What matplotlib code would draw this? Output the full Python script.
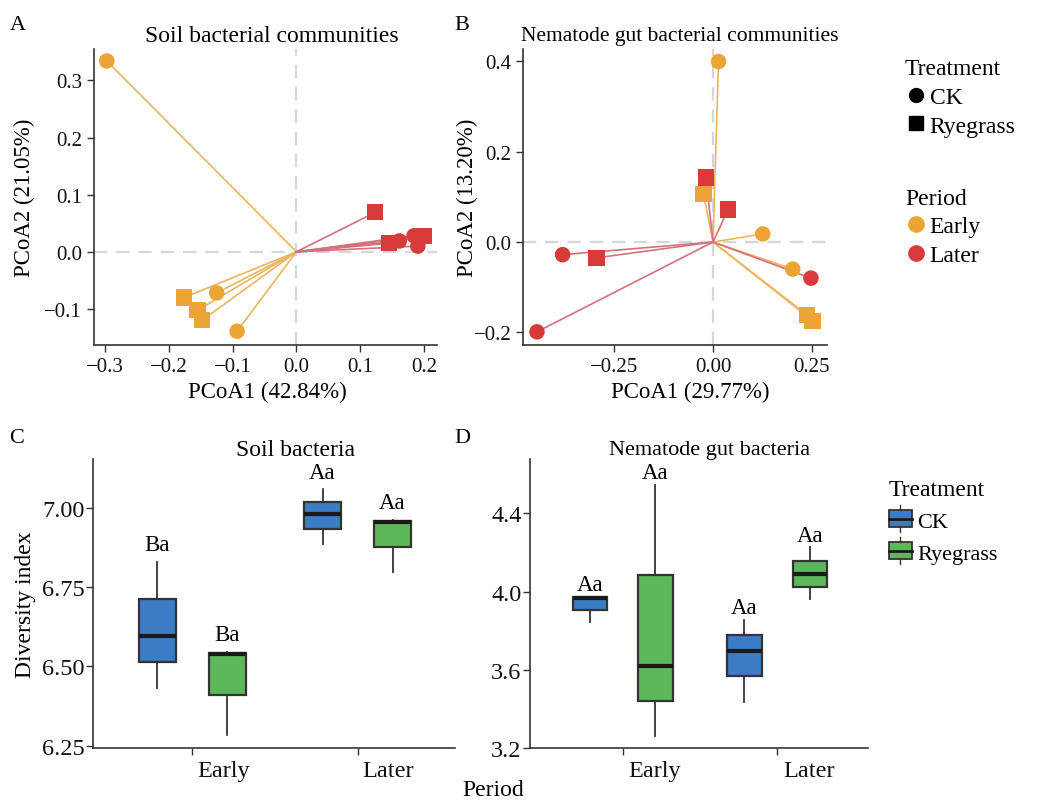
import matplotlib
matplotlib.use("Agg")
import matplotlib.pyplot as plt
import matplotlib.transforms as mtrans
from matplotlib.lines import Line2D
from matplotlib.patches import Rectangle
from matplotlib.legend_handler import HandlerBase

plt.rcParams['font.family'] = ['Liberation Serif', 'DejaVu Serif']
plt.rcParams['font.size'] = 14
plt.rcParams['axes.unicode_minus'] = True

# ---- data: PCoA of soil bacterial communities (panel A)
soil_x = [-0.297, -0.176, -0.155, -0.148, -0.125, -0.093,
          0.123, 0.145, 0.161, 0.184, 0.200, 0.190]
soil_y = [0.334, -0.080, -0.102, -0.120, -0.072, -0.139,
          0.069, 0.015, 0.019, 0.028, 0.028, 0.010]
soil_period = ['Early'] * 6 + ['Later'] * 6
soil_treat = ['CK', 'Ryegrass', 'Ryegrass', 'Ryegrass', 'CK', 'CK',
              'Ryegrass', 'Ryegrass', 'CK', 'CK', 'Ryegrass', 'CK']

# ---- data: PCoA of nematode gut bacterial communities (panel B)
gut_x = [0.014, -0.024, 0.126, 0.202, 0.239, 0.252,
         -0.018, 0.038, 0.248, -0.381, -0.295, -0.446]
gut_y = [0.400, 0.106, 0.018, -0.060, -0.162, -0.174,
         0.143, 0.072, -0.080, -0.028, -0.035, -0.199]
gut_period = ['Early'] * 6 + ['Later'] * 6
gut_treat = ['CK', 'Ryegrass', 'CK', 'CK', 'Ryegrass', 'Ryegrass',
             'Ryegrass', 'Ryegrass', 'CK', 'CK', 'Ryegrass', 'CK']

# ---- data: diversity boxplots (whislo, q1, med, q3, whishi)
periods = ['Early', 'Later']
treatments = ['CK', 'Ryegrass']
soil_box = {
    ('Early', 'CK'): [6.432, 6.514, 6.596, 6.713, 6.829],
    ('Early', 'Ryegrass'): [6.285, 6.411, 6.538, 6.543, 6.547],
    ('Later', 'CK'): [6.887, 6.932, 6.981, 7.018, 7.058],
    ('Later', 'Ryegrass'): [6.799, 6.877, 6.954, 6.958, 6.962],
}
soil_letters = {('Early', 'CK'): 'Ba', ('Early', 'Ryegrass'): 'Ba',
                ('Later', 'CK'): 'Aa', ('Later', 'Ryegrass'): 'Aa'}
gut_box = {
    ('Early', 'CK'): [3.843, 3.906, 3.968, 3.974, 3.974],
    ('Early', 'Ryegrass'): [3.265, 3.440, 3.619, 4.085, 4.546],
    ('Later', 'CK'): [3.438, 3.568, 3.699, 3.779, 3.857],
    ('Later', 'Ryegrass'): [3.963, 4.022, 4.090, 4.155, 4.226],
}
gut_letters = {k: 'Aa' for k in gut_box}

period_col = {'Early': '#eca534', 'Later': '#d73a38'}
line_col = {'Early': '#ebb55e', 'Later': '#d5707a'}
treat_marker = {'CK': 'o', 'Ryegrass': 's'}
box_col = {'CK': '#3b7dc4', 'Ryegrass': '#5db85b'}
dark = '#333333'

fig = plt.figure(figsize=(10.4, 8.04), dpi=100)


def style_axes(ax, tsize):
    for s in ['top', 'right']:
        ax.spines[s].set_visible(False)
    for s in ['left', 'bottom']:
        ax.spines[s].set_color(dark)
        ax.spines[s].set_linewidth(1.2)
    ax.tick_params(colors=dark, labelcolor='#111111', length=5, width=1.0,
                   labelsize=tsize)


def pcoa(ax, xs, ys, per, trt):
    ax.axhline(0, color='#d6d6d6', lw=1.6, ls=(0, (6, 4)), zorder=0)
    ax.axvline(0, color='#d6d6d6', lw=1.6, ls=(0, (6, 4)), zorder=0)
    for x, y, p in zip(xs, ys, per):
        ax.plot([0, x], [0, y], color=line_col[p], lw=1.2, zorder=1)
    for x, y, p, t in zip(xs, ys, per, trt):
        ax.scatter(x, y, s=125 if t == 'CK' else 135, marker=treat_marker[t],
                   color=period_col[p], edgecolor='none', zorder=3)
    style_axes(ax, 15)


axA = fig.add_axes([0.0904, 0.5697, 0.3298, 0.3682])
pcoa(axA, soil_x, soil_y, soil_period, soil_treat)
axA.set_xlim(-0.317, 0.22)
axA.set_ylim(-0.163, 0.355)
axA.set_xticks([-0.3, -0.2, -0.1, 0.0, 0.1, 0.2])
axA.set_yticks([-0.1, 0.0, 0.1, 0.2, 0.3])
axA.set_xlabel('PCoA1 (42.84%)', fontsize=16.5)
axA.set_ylabel('PCoA2 (21.05%)', fontsize=16.5)
axA.xaxis.set_label_coords(0.504, -0.122)
axA.yaxis.set_label_coords(-0.172, 0.5)

axB = fig.add_axes([0.5032, 0.570, 0.2917, 0.368])
pcoa(axB, gut_x, gut_y, gut_period, gut_treat)
axB.set_xlim(-0.4805, 0.288)
axB.set_ylim(-0.2275, 0.428)
axB.set_xticks([-0.25, 0.0, 0.25])
axB.set_yticks([-0.2, 0.0, 0.2, 0.4])
axB.set_xlabel('PCoA1 (29.77%)', fontsize=16.5)
axB.set_ylabel('PCoA2 (13.20%)', fontsize=16.5)
axB.xaxis.set_label_coords(0.549, -0.122)
axB.yaxis.set_label_coords(-0.149, 0.5)

treat_handles = [Line2D([], [], ls='none', marker=treat_marker[t], color='black',
                        markersize=10) for t in treatments]
period_handles = [Line2D([], [], ls='none', marker='o', color=period_col[p],
                         markersize=11) for p in periods]
leg1 = fig.legend(treat_handles, treatments, title='Treatment',
                  loc='upper left', bbox_to_anchor=(0.861, 0.938), frameon=False,
                  fontsize=17, title_fontsize=17, handletextpad=0.15,
                  borderaxespad=0, handlelength=0.9, labelspacing=0.3)
leg1._legend_box.align = 'left'
leg2 = fig.legend(period_handles, periods, title='Period',
                  loc='upper left', bbox_to_anchor=(0.861, 0.777), frameon=False,
                  fontsize=17, title_fontsize=17, handletextpad=0.15,
                  borderaxespad=0, handlelength=0.9, labelspacing=0.3)
leg2._legend_box.align = 'left'


def boxes(ax, data, letters, offset, shift):
    for i, p in enumerate(periods):
        for j, t in enumerate(treatments):
            lo, q1, med, q3, hi = data[(p, t)]
            pos = i + (j - 0.5) * 2 * 0.212
            st = [{'whislo': lo, 'q1': q1, 'med': med, 'q3': q3, 'whishi': hi,
                   'fliers': []}]
            ax.bxp(st, positions=[pos], widths=0.225, patch_artist=True,
                   showcaps=False, manage_ticks=False,
                   boxprops=dict(facecolor=box_col[t], edgecolor=dark, lw=1.6),
                   medianprops=dict(color='#1a1a1a', lw=3.0),
                   whiskerprops=dict(color=dark, lw=1.3))
            ax.text(pos, hi + offset, letters[(p, t)], ha='center',
                    va='center', fontsize=16.5)
    style_axes(ax, 17.5)
    ax.tick_params(axis='y', pad=1)
    ax.set_xlim(-0.6, 1.59)
    ax.set_xticks([0, 1])
    ax.set_xticklabels(periods, ha='left')
    off = mtrans.ScaledTranslation(shift / 100, 0, fig.dpi_scale_trans)
    for lab in ax.get_xticklabels():
        lab.set_transform(lab.get_transform() + off)


axC = fig.add_axes([0.0897, 0.068, 0.3478, 0.3599])
boxes(axC, soil_box, soil_letters, 0.054, 5)
axC.set_ylim(6.242, 7.154)
axC.set_yticks([6.25, 6.50, 6.75, 7.00])
axC.set_yticklabels(['6.25', '6.50', '6.75', '7.00'])
axC.set_ylabel('Diversity index', fontsize=17)
axC.yaxis.set_label_coords(-0.158, 0.5)

axD = fig.add_axes([0.5096, 0.068, 0.3253, 0.3599])
boxes(axD, gut_box, gut_letters, 0.061, 6)
axD.set_ylim(3.2, 4.677)
axD.set_yticks([3.2, 3.6, 4.0, 4.4])


class BoxHandler(HandlerBase):
    def create_artists(self, legend, orig, xd, yd, w, h, fs, trans):
        col = orig.get_facecolor()
        cx = xd + w / 2
        r = Rectangle((xd, yd), w, h, facecolor=col,
                      edgecolor=dark, lw=1.3, transform=trans)
        m = Line2D([xd, xd + w], [yd + h / 2] * 2, color='#1a1a1a', lw=2.0,
                   transform=trans)
        wt = Line2D([cx, cx], [yd + h, yd + 1.3 * h], color=dark, lw=1.0,
                    transform=trans)
        wb = Line2D([cx, cx], [yd - 0.3 * h, yd], color=dark, lw=1.0,
                    transform=trans)
        return [r, m, wt, wb]


box_handles = [Rectangle((0, 0), 1, 1, facecolor=box_col[t]) for t in treatments]
leg3 = fig.legend(box_handles, treatments, title='Treatment', loc='upper left',
                  bbox_to_anchor=(0.846, 0.414), frameon=False, fontsize=16,
                  title_fontsize=17, handlelength=1.05, handleheight=0.75,
                  handletextpad=0.25, labelspacing=0.5, borderaxespad=0,
                  handler_map={Rectangle: BoxHandler()})
leg3._legend_box.align = 'left'

# titles, panel letters, shared x label
fig.text(0.2615, 0.954, 'Soil bacterial communities', ha='center', va='center',
         fontsize=17)
fig.text(0.654, 0.954, 'Nematode gut bacterial communities', ha='center',
         va='center', fontsize=15.5)
fig.text(0.284, 0.440, 'Soil bacteria', ha='center', va='center', fontsize=17)
fig.text(0.682, 0.440, 'Nematode gut bacteria', ha='center', va='center',
         fontsize=16)
for lab, x, y in [('A', 0.017, 0.968), ('B', 0.444, 0.968),
                  ('C', 0.016, 0.455), ('D', 0.445, 0.455)]:
    fig.text(x, y, lab, ha='center', va='center', fontsize=16)
fig.text(0.474, 0.004, 'Period', ha='center', va='bottom', fontsize=17)

fig.savefig('out.png', dpi=100)
